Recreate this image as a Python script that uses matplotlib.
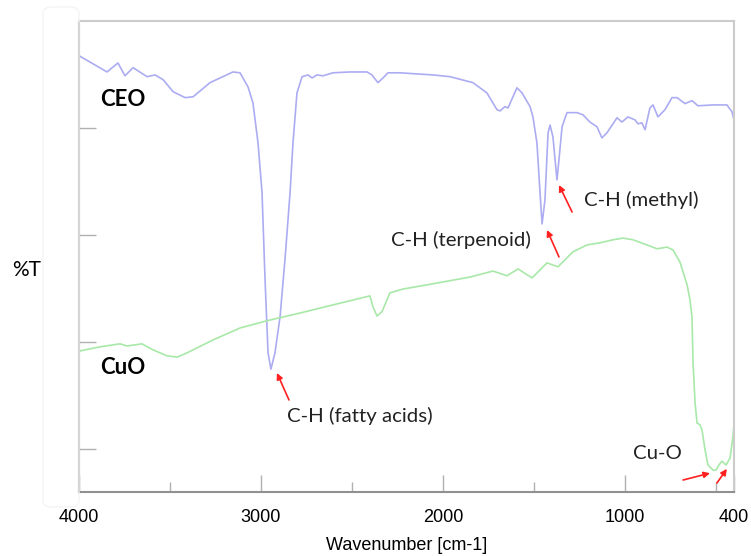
import matplotlib.pyplot as plt
from matplotlib.patches import FancyBboxPatch

# CEO spectrum (wavenumber cm-1, %T arbitrary units)
ceo_wn = [4000, 3846, 3786, 3747, 3703, 3626, 3582, 3538, 3483, 3417, 3373, 3280, 3154, 3115,
          3071, 3044, 3016, 2994, 2978, 2961, 2945, 2923, 2895, 2868, 2840, 2824, 2802, 2774,
          2741, 2719, 2692, 2659, 2604, 2511, 2417, 2390, 2357, 2329, 2302, 2236, 2054, 1961,
          1835, 1758, 1703, 1686, 1659, 1642, 1593, 1565, 1521, 1505, 1483, 1466, 1455, 1439,
          1422, 1411, 1395, 1373, 1362, 1345, 1318, 1263, 1230, 1192, 1153, 1126, 1098, 1043,
          1016, 983, 944, 928, 906, 889, 862, 845, 818, 779, 741, 713, 669, 631, 598, 515,
          439, 411, 400]
ceo_t = [101.9, 98.1, 100.2, 97.2, 99.1, 97.0, 97.4, 96.3, 93.5, 92.1, 92.3, 95.6, 98.1, 97.9,
         94.6, 90.9, 81.5, 69.9, 50.2, 32.5, 28.7, 32.5, 40.9, 54.2, 69.9, 81.5, 93.2, 97.0,
         97.4, 96.7, 97.4, 97.2, 97.9, 98.1, 98.1, 97.4, 95.6, 96.7, 97.9, 97.9, 97.4, 97.0,
         95.6, 93.2, 89.3, 89.0, 90.0, 89.7, 94.4, 93.2, 90.0, 87.6, 81.5, 69.9, 62.6, 68.2,
         83.9, 85.7, 82.9, 72.9, 77.6, 85.3, 88.6, 88.6, 88.1, 86.4, 85.3, 82.7, 83.9, 87.4,
         86.4, 87.6, 86.9, 86.0, 86.2, 84.6, 89.7, 90.4, 87.6, 89.3, 92.1, 92.1, 90.7, 91.4, 90.2, 90.4,
         90.4, 88.8, 86.9]

# CuO spectrum
cuo_wn = [4000, 3885, 3775, 3736, 3654, 3593, 3516, 3461, 3406, 3264, 3115, 2967, 2785, 2604,
          2401, 2384, 2362, 2335, 2291, 2219, 2032, 1851, 1725, 1648, 1587, 1510, 1428, 1367,
          1285, 1208, 1137, 1065, 1010, 955, 878, 823, 768, 735, 697, 658, 642, 631, 625, 614,
          603, 587, 576, 559, 543, 515, 499, 483, 466, 444, 422, 406, 400]
cuo_t = [32.9, 33.9, 34.6, 34.1, 34.6, 33.2, 31.8, 31.5, 32.5, 35.5, 38.3, 40.0, 41.8, 43.7,
         45.8, 43.2, 41.1, 42.1, 46.5, 47.4, 48.8, 50.2, 51.6, 50.5, 52.1, 50.0, 53.5, 52.6,
         56.1, 57.7, 58.2, 58.9, 59.3, 58.9, 57.7, 56.8, 57.2, 56.5, 53.7, 48.4, 44.9, 40.9, 30.1, 20.8,
         16.1, 15.7, 14.5, 9.8, 6.3, 5.1, 5.1, 6.3, 7.2, 6.3, 7.9, 12.9, 15.7]

x_ticks = [4000, 3000, 2000, 1000, 400]
x_minor = [3500, 2500, 1500, 500]
y_ticks = [10, 35, 60, 85]

# annotation texts: (label, x, y)
labels = [("C-H (fatty acids)", 2456, 17.8),
          ("C-H (terpenoid)", 1901, 58.9),
          ("C-H (methyl)", 911, 68.2),
          ("Cu-O", 823, 8.9)]
# arrows: (head x, head y, tail x, tail y)
arrows = [(2912, 27.8, 2846, 21.5),
          (1428, 61.2, 1362, 54.9),
          (1362, 71.7, 1290, 65.4),
          (532, 4.4, 680, 2.8),
          (439, 5.4, 494, 2.1)]

fig = plt.figure(figsize=(7.51, 5.56), dpi=100)

# faint frame left over from the screenshot
fig.patches.append(FancyBboxPatch((43 / 751, 49 / 556), 36 / 751, 500 / 556,
                                  boxstyle="round,pad=0,rounding_size=0.012",
                                  transform=fig.transFigure, facecolor="none",
                                  edgecolor="#f4f4f4", linewidth=1.0))

ax = fig.add_axes([79 / 751, 64 / 556, 655 / 751, 471 / 556])

ax.plot(ceo_wn, ceo_t, color="#acacf2", linewidth=1.2)
ax.plot(cuo_wn, cuo_t, color="#a8e8a8", linewidth=1.2)

ax.set_xlim(4000, 400)
ax.set_ylim(0, 110)

ax.set_xticks(x_ticks)
ax.set_xticklabels([str(t) for t in x_ticks], fontsize=13, family="Liberation Sans")
ax.set_xticks(x_minor, minor=True)
ax.set_yticks(y_ticks)
ax.set_yticklabels([])
ax.tick_params(axis="x", which="major", direction="in", length=12, width=1, color="#b0b0b0", pad=12)
ax.tick_params(axis="x", which="minor", direction="in", length=7, width=1, color="#b0b0b0")
ax.tick_params(axis="y", direction="in", length=12, width=1, color="#b0b0b0")

for side in ["left", "bottom"]:
    ax.spines[side].set_color("#909090")
    ax.spines[side].set_linewidth(1.5)
for side in ["top", "right"]:
    ax.spines[side].set_color("#cccccc")
    ax.spines[side].set_linewidth(1.5)

ax.set_xlabel("Wavenumber [cm-1]", fontsize=13, family="Liberation Sans", labelpad=8)
fig.text(27 / 751, 1 - 270 / 556, "%T", fontsize=15, family="Lato", ha="center", va="center")

ax.text(3758, 91.6, "CEO", fontsize=16, fontweight="bold", family="Lato", ha="center", va="center")
ax.text(3758, 29.0, "CuO", fontsize=16, fontweight="bold", family="Lato", ha="center", va="center")

for text, x, y in labels:
    ax.text(x, y, text, fontsize=14.7, family="Lato", color="#222222", ha="center", va="center")

for hx, hy, tx, ty in arrows:
    ax.annotate("", xy=(hx, hy), xytext=(tx, ty),
                arrowprops=dict(arrowstyle="-|>", color="#ff2020", lw=1.2,
                                mutation_scale=9, shrinkA=0, shrinkB=0))

fig.savefig("out.png", dpi=100)
